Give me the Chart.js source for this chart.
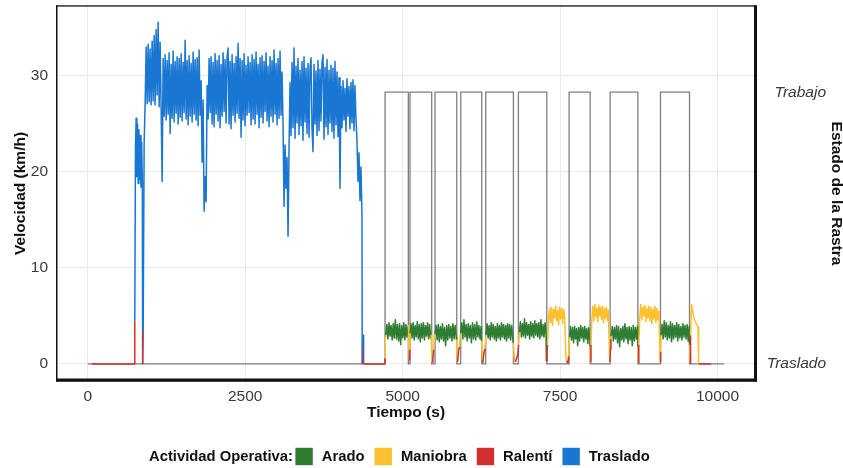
<!DOCTYPE html>
<html>
<head>
<meta charset="utf-8">
<script src="https://cdn.jsdelivr.net/npm/chart.js@4.4.1/dist/chart.umd.min.js"></script>
<style>
  html, body { margin: 0; padding: 0; background: #fff; }
  #wrap { width: 843px; height: 468px; position: relative; }
</style>
</head>
<body>
<div id="wrap"><canvas id="chart"></canvas></div>
<script>
// Actividades y colores
const ACTIVIDADES = ['Arado', 'Maniobra', 'Ralentí', 'Traslado'];
const COLORES = { Arado: '#2e7d32', Maniobra: '#fbc02d', 'Ralentí': '#d32f2f', Traslado: '#1976d2' };

// Estado de la rastra: 0 = Traslado, 1 = Trabajo (cambios en s)
const rastraT = [0, 4720, 5090, 5117, 5461, 5514, 5859, 5922, 6256, 6319, 6759, 6838, 7289, 7643, 7977, 8295, 8735, 9094, 9555, 10106];
const rastraE = [0, 1, 0, 1, 0, 1, 0, 1, 0, 1, 0, 1, 0, 1, 0, 1, 0, 1, 0, 0];

// Velocidades (km/h)
const trasladoA = [4.5, 22.5, 25.6, 19.5, 25.0, 18.8, 24.4, 19.2, 23.8, 18.4, 23.1, 19.0];
const trasladoB = [3.4, 23.0,
  27.2, 33.0, 27.1, 33.3, 27.3, 32.8, 27.0, 33.6, 27.4, 34.2, 27.0, 34.8, 28.0, 35.6, 26.8, 33.5, 26.6, 19.0,
  31.8, 25.8, 32.2, 25.4, 31.6, 26.0, 32.4, 24.0, 31.2, 25.6, 32.6, 25.2, 31.5, 26.1, 32.0, 25.0, 31.8, 25.7,
  32.3, 25.3, 31.4, 26.2, 33.7, 25.5, 31.6, 24.9, 32.1, 25.8, 31.3, 25.2, 32.5, 26.0, 31.7, 25.4, 31.9, 24.8,
  32.7, 25.9, 29.5, 21.0, 27.5, 15.9, 19.5, 16.9,
  29.0, 25.5, 31.8, 26.2, 32.0, 25.0, 31.4, 24.7, 32.3, 26.0, 31.6, 25.3, 32.1, 24.6, 31.2, 25.8, 32.4, 26.3,
  31.7, 25.1, 31.9, 32.9, 25.0, 31.5, 24.5, 32.2, 25.9, 31.3, 25.2, 32.0, 26.1, 33.4, 25.6, 31.8, 23.6, 31.6,
  25.4, 32.3, 24.8, 31.1, 25.9, 32.0, 26.2, 31.4, 24.9, 32.2, 25.5, 31.7, 25.0, 32.5, 26.0, 31.2, 24.6, 31.9,
  25.7, 32.1, 25.1, 31.5, 26.3, 32.4, 25.3, 31.0, 24.7, 32.0, 25.8, 31.6, 25.2, 32.7, 26.0, 31.3, 24.9, 31.8,
  25.6, 32.6, 25.9, 30.4, 25.0,
  16.4, 22.8, 18.3, 21.5, 13.3, 22.5, 29.3, 23.8, 31.4, 24.6, 32.9, 23.5, 31.0, 25.1, 31.8, 23.9, 30.6, 24.8,
  31.5, 23.3, 32.0, 25.2, 30.8, 24.0, 31.3, 23.6, 30.9, 31.9, 24.5, 22.1, 31.2, 25.0, 30.5, 23.8, 31.6, 24.3,
  30.7, 25.3, 31.4, 32.2, 23.4, 30.9, 24.7, 31.7, 23.9, 30.6, 25.1, 31.1, 24.2, 30.8, 23.5, 31.5, 24.9, 30.4,
  23.7, 29.8, 18.3, 28.9, 24.6, 29.5, 25.4, 28.7, 24.2, 29.7, 25.8, 28.9, 24.5, 29.3, 25.1, 29.6, 24.3, 29.0,
  25.5, 23.2, 19.0, 22.0, 17.0, 20.5, 15.5];

const aradoP1 = [3.0, 4.1, 2.6, 4.3, 2.9, 4.0, 2.5, 4.2, 2.7, 4.6, 2.6, 4.1, 2.4, 4.2, 2.0, 4.0, 2.7, 4.3, 2.5, 4.1, 2.8, 3.9];
const aradoP2 = [3.2, 4.2, 2.7, 4.3, 2.5, 4.0, 2.8, 4.4, 2.6, 4.1, 2.3, 4.2, 2.7, 4.3, 2.5, 4.0, 2.9, 4.3, 2.6, 4.1, 2.7];
const aradoP3 = [3.1, 4.0, 2.5, 4.1, 2.3, 3.9, 2.6, 4.2, 2.4, 3.8, 1.9, 4.0, 2.5, 4.1, 2.7, 3.9, 2.4, 4.2, 2.6, 4.0, 2.8];
const aradoP4 = [3.2, 4.3, 2.6, 4.6, 2.8, 4.1, 2.4, 4.2, 2.7, 4.0, 2.2, 4.3, 2.6, 4.1, 2.5, 4.4, 2.8, 4.0, 2.6, 3.9];
const aradoP5 = [3.0, 4.2, 2.7, 4.0, 2.5, 4.3, 2.8, 4.1, 2.6, 3.9, 2.4, 4.2, 2.7, 4.0, 2.5, 4.3, 2.8, 4.1, 2.6, 4.0, 2.4, 4.2, 2.7, 4.1, 2.5, 4.0, 2.8];
const aradoP6 = [3.3, 4.4, 2.8, 4.2, 2.9, 4.7, 2.7, 4.3, 3.0, 4.1, 2.6, 4.4, 2.9, 4.2, 2.7, 4.5, 3.0, 4.2, 2.8, 4.3, 2.6, 4.6, 2.9, 4.1, 2.8, 4.3, 3.0];
const aradoP7 = [2.8, 3.9, 2.5, 3.8, 2.2, 3.9, 2.6, 3.7, 1.9, 3.8, 2.4, 4.0, 2.7, 3.8, 2.3, 3.9, 2.6, 3.7, 2.1, 3.8, 2.5];
const aradoP8 = [2.9, 3.9, 2.4, 3.8, 2.6, 4.0, 2.2, 3.9, 1.8, 3.7, 2.5, 3.9, 2.3, 4.2, 2.6, 3.8, 2.1, 3.9, 2.5, 3.8, 1.9, 4.0, 2.4, 3.8, 2.6, 3.9];
const aradoP9 = [3.0, 4.1, 2.6, 4.5, 2.8, 4.3, 2.5, 4.0, 2.7, 4.4, 2.3, 4.2, 2.6, 4.0, 2.8, 4.3, 2.4, 4.1, 2.7, 3.9, 2.5, 4.2, 2.8, 4.0, 2.6, 4.1, 2.4, 3.9];

const maniobraB1 = [2.0, 4.6, 5.8, 4.3, 5.9, 4.0, 5.7, 4.8, 6.0, 4.5, 5.6, 4.1, 5.9, 4.7, 5.8, 4.2, 5.7, 4.9, 1.0];
const maniobraB2 = [2.0, 4.8, 6.0, 4.5, 6.2, 4.9, 5.8, 4.4, 6.1, 5.0, 5.9, 4.6, 6.0, 4.3, 5.8, 4.8, 5.9, 4.5, 5.6, 1.5];
const maniobraB3 = [2.0, 4.9, 6.2, 4.6, 5.9, 5.0, 6.1, 4.4, 5.8, 4.8, 6.0, 4.5, 5.9, 4.2, 5.7, 4.7, 6.0, 4.3, 5.8, 4.6, 5.5, 1.0];
const maniobraFin = [3.0, 6.2, 5.6, 5.1, 4.7, 4.4, 4.2, 4.1, 3.8];

// tramos: [actividad, t inicio, t fin, velocidades]
const tramos = [
  ['Ralentí', 60, 740, [0, 0]],
  ['Traslado', 746, 866, trasladoA],
  ['Ralentí', 871, 871, [0]],
  ['Traslado', 879, 4354, trasladoB],
  ['Ralentí', 4358, 4358, [0]],
  ['Traslado', 4362, 4380, [2.0, 3.0, 0.2]],
  ['Ralentí', 4390, 4712, [0, 0]],
  ['Maniobra', 4718, 4726, [0.6, 2.8]],
  ['Arado', 4732, 5086, aradoP1],
  ['Maniobra', 5092, 5098, [4.0, 1.3]],
  ['Ralentí', 5104, 5104, [0.4]],
  ['Maniobra', 5110, 5110, [1.5]],
  ['Arado', 5117, 5445, aradoP2],
  ['Maniobra', 5452, 5458, [3.0, 1.8]],
  ['Ralentí', 5466, 5480, [0.2, 0.5]],
  ['Maniobra', 5492, 5505, [1.5, 3.0]],
  ['Arado', 5514, 5850, aradoP3],
  ['Maniobra', 5856, 5862, [2.5, 0.3]],
  ['Ralentí', 5872, 5890, [0.2, 1.5]],
  ['Maniobra', 5905, 5915, [1.8, 3.1]],
  ['Arado', 5922, 6245, aradoP4],
  ['Maniobra', 6252, 6262, [2.4, 1.2]],
  ['Ralentí', 6272, 6290, [0.1, 1.1]],
  ['Maniobra', 6305, 6318, [1.6, 2.7]],
  ['Arado', 6325, 6748, aradoP5],
  ['Maniobra', 6755, 6775, [2.2, 0.6]],
  ['Ralentí', 6790, 6830, [0.2, 1.0]],
  ['Maniobra', 6842, 6850, [2.0, 3.1]],
  ['Arado', 6854, 7277, aradoP6],
  ['Ralentí', 7282, 7292, [0.3, 1.2]],
  ['Maniobra', 7300, 7590, maniobraB1],
  ['Ralentí', 7600, 7625, [0.3, 0.1]],
  ['Maniobra', 7635, 7642, [0.8, 2.2]],
  ['Arado', 7650, 7972, aradoP7],
  ['Maniobra', 7978, 7978, [1.8]],
  ['Ralentí', 7983, 7983, [0.2]],
  ['Maniobra', 7990, 8282, maniobraB2],
  ['Ralentí', 8290, 8300, [0.2, 1.5]],
  ['Maniobra', 8307, 8307, [2.6]],
  ['Arado', 8312, 8730, aradoP8],
  ['Maniobra', 8737, 8737, [1.8]],
  ['Ralentí', 8743, 8743, [0.1]],
  ['Maniobra', 8750, 9085, maniobraB3],
  ['Ralentí', 9092, 9092, [0.2]],
  ['Maniobra', 9097, 9097, [1.3]],
  ['Arado', 9104, 9550, aradoP9],
  ['Maniobra', 9556, 9556, [2.0]],
  ['Ralentí', 9565, 9565, [0.1]],
  ['Maniobra', 9572, 9690, maniobraFin],
  ['Ralentí', 9700, 9895, [0, 0]],
];

const X_TICKS = [0, 2500, 5000, 7500, 10000];
const Y_TICKS = [0, 10, 20, 30];
const TRABAJO = 28.3; // nivel de "Trabajo" en km/h
const Y_MIN = -1.775, Y_MAX = 37.28;

// puntos con su actividad
const pts = [];
tramos.forEach(([act, t0, t1, v]) => {
  v.forEach((y, i) => {
    const x = v.length > 1 ? t0 + (t1 - t0) * i / (v.length - 1) : t0;
    pts.push({ x, y, act });
  });
});

const FONT = "'Liberation Sans', Arial, sans-serif";
const GRID = '#ebebeb';
const TXT = '#3a3a3a';

// sin relleno extra de las etiquetas en el layout
const sinPad = (s) => { s.paddingTop = 0; s.paddingBottom = 0; s.paddingLeft = 0; s.paddingRight = 0; };

// marco del panel
const marco = {
  id: 'marco',
  afterDraw(chart) {
    const { ctx, chartArea: a } = chart;
    ctx.save();
    ctx.fillStyle = '#111';
    ctx.fillRect(a.left, a.top - 0.7, a.right - a.left, 1.3);
    ctx.fillRect(a.left, a.top - 0.7, 1.5, a.bottom - a.top);
    ctx.fillRect(a.right - 2, a.top - 0.7, 3, a.bottom - a.top + 1);
    ctx.fillRect(a.left, a.bottom - 2.5, a.right - a.left + 1, 3.3);
    ctx.restore();
  },
};

// leyenda inferior
const leyenda = {
  id: 'leyenda',
  afterDraw(chart) {
    const { ctx } = chart;
    const y = 456.5;
    ctx.save();
    ctx.textBaseline = 'middle';
    ctx.fillStyle = '#111';
    ctx.font = `bold 14.8px ${FONT}`;
    let x = 149;
    ctx.fillText('Actividad Operativa:', x, y);
    x += ctx.measureText('Actividad Operativa:').width + 2.5;
    ACTIVIDADES.forEach((a) => {
      ctx.fillStyle = COLORES[a];
      ctx.fillRect(x, y - 8.7, 17.4, 17.4);
      x += 17.4 + 9;
      ctx.fillStyle = '#111';
      ctx.fillText(a, x, y);
      x += ctx.measureText(a).width + 10;
    });
    ctx.restore();
  },
};

new Chart(document.getElementById('chart'), {
  type: 'line',
  data: {
    datasets: [
      {
        label: 'Velocidad',
        data: pts,
        borderWidth: 1.5,
        borderColor: COLORES.Traslado,
        borderJoinStyle: 'round',
        pointRadius: 0,
        tension: 0,
        order: 0,
        segment: { borderColor: (c) => COLORES[pts[c.p0DataIndex].act] },
      },
      {
        label: 'Estado de la Rastra',
        data: rastraT.map((t, i) => ({ x: t, y: rastraE[i] })),
        yAxisID: 'y2',
        stepped: true,
        borderWidth: 1.3,
        borderColor: 'rgba(105,105,105,0.85)',
        pointRadius: 0,
        order: 1,
      },
    ],
  },
  options: {
    responsive: true, maintainAspectRatio: false,
    animation: false,
    devicePixelRatio: 1,
    layout: { padding: { top: 6, bottom: 40, left: 0, right: 17 } },
    plugins: { legend: { display: false }, tooltip: { enabled: false } },
    scales: {
      x: {
        type: 'linear', min: -505, max: 10611,
        afterBuildTicks: (s) => { s.ticks = X_TICKS.map((v) => ({ value: v })); },
        afterFit: (s) => { s.height = 47; sinPad(s); },
        grid: { color: GRID, drawTicks: false },
        border: { display: false },
        ticks: { color: TXT, font: { family: FONT, size: 15.5 }, padding: 6, maxRotation: 0, callback: (v) => String(v) },
        title: { display: true, text: 'Tiempo (s)', color: '#111', font: { family: FONT, size: 15.5, weight: 'bold' }, padding: { top: 0, bottom: 6 } },
      },
      y: {
        min: Y_MIN, max: Y_MAX,
        afterBuildTicks: (s) => { s.ticks = Y_TICKS.map((v) => ({ value: v })); },
        afterFit: (s) => { s.width = 56; sinPad(s); },
        grid: { color: GRID, drawTicks: false },
        border: { display: false },
        ticks: { color: TXT, font: { family: FONT, size: 15.5 }, padding: 8 },
        title: { display: true, text: 'Velocidad (km/h)', color: '#111', font: { family: FONT, size: 15.5, weight: 'bold' }, padding: { top: 11, bottom: 0 } },
      },
      y2: {
        position: 'right',
        min: Y_MIN / TRABAJO, max: Y_MAX / TRABAJO,
        afterBuildTicks: (s) => { s.ticks = [0, 1].map((v) => ({ value: v })); },
        afterFit: (s) => { s.width = 70; sinPad(s); },
        grid: { display: false, drawTicks: false },
        border: { display: false },
        ticks: {
          color: TXT, font: { family: FONT, size: 15.5, style: 'italic' }, padding: 9, crossAlign: 'far',
          callback: (v) => (v === 1 ? 'Trabajo' : 'Traslado'),
        },
        title: { display: true, text: 'Estado de la Rastra', color: '#111', font: { family: FONT, size: 15.5, weight: 'bold', lineHeight: 1 }, padding: { top: -18, bottom: 0 } },
      },
    },
  },
  plugins: [marco, leyenda],
});
</script>
</body>
</html>
